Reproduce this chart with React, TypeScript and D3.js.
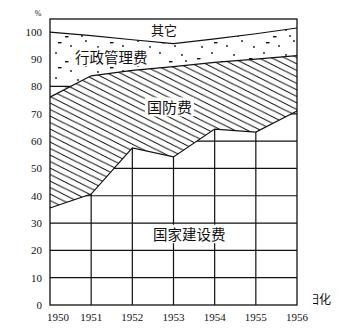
import React from 'react';
import * as d3 from 'd3';

const years = [1950, 1951, 1952, 1953, 1954, 1955, 1956];
const construction = [35.5, 40.6, 57.5, 54.2, 64.4, 63.3, 71.0];
const defense = [40.6, 43.3, 28.4, 33.1, 24.4, 26.7, 20.3];
const admin = [23.8, 14.7, 11.2, 8.4, 8.6, 9.3, 10.1];
const yTicks = [0, 10, 20, 30, 40, 50, 60, 70, 80, 90, 100];
const gridValues = [10, 20, 30, 40, 50, 60, 70];
const adminGridValues = [80];
const Y_MAX = 104.7;

const labels = [
  { text: '其它', year: 1952.77, value: 100.7, size: 13, bg: false },
  { text: '行政管理费', year: 1951.49, value: 90.8, size: 14.5, bg: true },
  { text: '国防费', year: 1952.9, value: 72.5, size: 15, bg: true },
  { text: '国家建设费', year: 1953.38, value: 26, size: 14.5, bg: true },
];

const W = 355;
const H = 329;

export default function App() {
  const x = d3.scaleLinear().domain([1950, 1956]).range([50, 297]);
  const y = d3.scaleLinear().domain([0, Y_MAX]).range([305, 19]);

  const rows = years.map((yr, i) => ({
    year: yr,
    construction: construction[i],
    defense: defense[i],
    admin: admin[i],
  }));
  const stack = d3.stack<any>().keys(['construction', 'defense', 'admin']);
  const series = stack(rows);

  const area = d3
    .area<any>()
    .x((d) => x(d.data.year))
    .y0((d) => y(d[0]))
    .y1((d) => y(d[1]));
  const line = d3
    .line<any>()
    .x((d) => x(d.data.year))
    .y((d) => y(d[1]));
  const otherArea = d3
    .area<any>()
    .x((d) => x(d.data.year))
    .y0((d) => y(d[1]))
    .y1(() => y(Y_MAX));

  const [sC, sD, sA] = series;
  const serif = '"Liberation Serif", "DejaVu Serif", serif';
  const cjk = '"Noto Sans CJK SC", sans-serif';

  const dots = [
    [4, 3, 'c'], [13, 11, 'd'], [26, 5, 'c'], [34, 16, 'c'], [41, 8, 'd'],
    [19, 21, 'c'], [6, 17, 'd'], [30, 11, 'c'], [46, 22, 'c'],
  ];

  const hw = 13;
  const hh = 6.5;

  return (
    <svg width={W} height={H} style={{ position: 'absolute', left: 0, top: 0, background: '#fff' }}>
      <defs>
        <pattern id="hatch" patternUnits="userSpaceOnUse" width={hw} height={hh}>
          <line x1={-hw} y1={-hh} x2={2 * hw} y2={2 * hh} stroke="#000" strokeWidth={1} />
          <line x1={-hw} y1={0} x2={hw} y2={2 * hh} stroke="#000" strokeWidth={1} />
          <line x1={0} y1={-hh} x2={2 * hw} y2={hh} stroke="#000" strokeWidth={1} />
        </pattern>
        <pattern id="stipple" patternUnits="userSpaceOnUse" width={52} height={25}>
          {dots.map(([dx, dy, t], i) =>
            t === 'c' ? (
              <circle key={i} cx={dx as number} cy={dy as number} r={0.9} fill="#111" />
            ) : (
              <rect key={i} x={dx as number} y={dy as number} width={3.5} height={1.4} fill="#111" />
            )
          )}
        </pattern>
        <clipPath id="clipC">
          <path d={area(sC) || ''} />
        </clipPath>
        <clipPath id="clipA">
          <path d={area(sA) || ''} />
        </clipPath>
        <clipPath id="clipTxt">
          <rect x={313} y={280} width={40} height={30} />
        </clipPath>
      </defs>

      {/* areas */}
      <path d={area(sC) || ''} fill="#fff" />
      <path d={area(sD) || ''} fill="url(#hatch)" />
      <path d={area(sA) || ''} fill="url(#stipple)" />
      <path d={otherArea(sA) || ''} fill="#fff" />

      {/* grid in construction area */}
      <g clipPath="url(#clipC)" stroke="#111" strokeWidth={1.2}>
        {gridValues.map((v) => (
          <line key={'h' + v} x1={x(1950)} x2={x(1956)} y1={y(v)} y2={y(v)} />
        ))}
        {years.slice(1, -1).map((yr) => (
          <line key={'v' + yr} x1={x(yr)} x2={x(yr)} y1={y(0)} y2={y(Y_MAX)} />
        ))}
      </g>
      <g clipPath="url(#clipA)" stroke="#111" strokeWidth={1.2}>
        {adminGridValues.map((v) => (
          <line key={'a' + v} x1={x(1950)} x2={x(1956)} y1={y(v)} y2={y(v)} />
        ))}
      </g>

      {/* boundaries */}
      {[sC, sD, sA].map((s, i) => (
        <path key={i} d={line(s) || ''} fill="none" stroke="#111" strokeWidth={1.2} />
      ))}

      {/* frame */}
      <rect x={x(1950)} y={y(Y_MAX)} width={x(1956) - x(1950)} height={y(0) - y(Y_MAX)} fill="none" stroke="#111" strokeWidth={1.3} />

      {/* labels */}
      {labels.map((l) => {
        const cx = x(l.year);
        const cy = y(l.value);
        const w = l.text.length * l.size;
        return (
          <g key={l.text}>
            {l.bg && <rect x={cx - w / 2 - 2} y={cy - l.size / 2 - 2} width={w + 4} height={l.size + 4} fill="#fff" />}
            <text x={cx} y={cy} textAnchor="middle" dominantBaseline="central" fontFamily={cjk} fontSize={l.size} fill="#111">
              {l.text}
            </text>
          </g>
        );
      })}

      {/* y axis labels */}
      {yTicks.map((v) => (
        <text key={v} x={42} y={y(v)} textAnchor="end" dominantBaseline="central" fontFamily={serif} fontSize={11} fill="#111">
          {v}
        </text>
      ))}
      <text x={38} y={16} textAnchor="middle" fontFamily={serif} fontSize={8} fill="#111">%</text>

      {/* x axis labels */}
      {years.map((yr, i) => (
        <text
          key={yr}
          x={i === 0 ? x(yr) - 3 : x(yr)}
          y={321}
          textAnchor={i === 0 ? 'start' : 'middle'}
          fontFamily={serif}
          fontSize={11}
          fill="#111"
        >
          {yr}
        </text>
      ))}

      {/* cropped stray text at right */}
      <text x={307} y={298} dominantBaseline="central" fontFamily={cjk} fontSize={12} fill="#111" clipPath="url(#clipTxt)">
        归化
      </text>
    </svg>
  );
}
